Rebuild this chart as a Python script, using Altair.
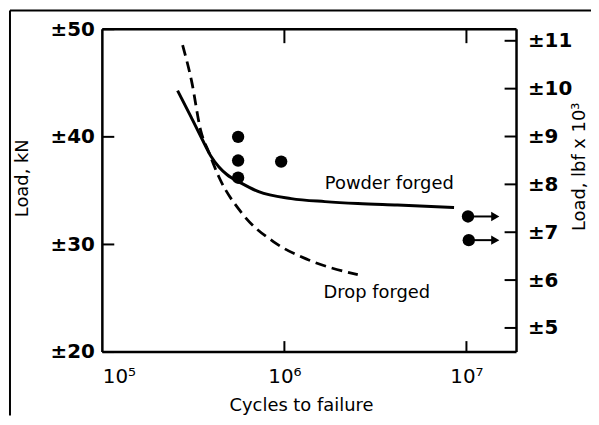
import altair as alt
import pandas as pd

# ---- data ----
powder_cycles = [2.59e5, 3.06e5, 3.54e5, 3.95e5, 4.37e5, 4.83e5, 5.83e5, 7.22e5,
                 1.09e6, 1.67e6, 2.53e6, 4.18e6, 8.55e6]
powder_load = [44.3, 41.9, 39.75, 38.2, 37.2, 36.5, 35.68, 34.9,
               34.26, 33.98, 33.8, 33.66, 33.44]
drop_cycles = [2.76e5, 3.09e5, 3.47e5, 3.85e5, 4.37e5, 5.83e5, 8.9e5, 1.35e6, 2.53e6]
drop_load = [48.52, 45.2, 40.58, 38.55, 36.27, 32.92, 30.15, 28.58, 27.19]
test_cycles = [5.57e5, 5.57e5, 5.57e5, 9.6e5, 1.02e7, 1.03e7]
test_load = [40.0, 37.8, 36.2, 37.7, 32.6, 30.4]
runout_cycles = [1.02e7, 1.03e7]
runout_load = [32.6, 30.4]
runout_tip = [1.44e7, 1.44e7]
label_text = ["Powder forged", "Drop forged"]
label_cycles = [3.77e6, 3.22e6]
label_load = [35.13, 25.04]
kn_ticks = [20, 30, 40, 50]
klbf_ticks = [5, 6, 7, 8, 9, 10, 11]
x_ticks = [1e5, 1e6, 1e7]
x_tick_labels = ["10⁵", "10⁶", "10⁷"]
inner_x_ticks = [1e6, 1e7]
KN_PER_KLBF = 4.448
x_domain = [1e5, 1.884e7]
y_domain = [20, 50]

W, H = 417, 325
PAD_R = 75
FONT = "DejaVu Sans"

xs = alt.Scale(type="log", domain=x_domain)
ys = alt.Scale(domain=y_domain)

label_expr = " : ".join(
    f"abs(datum.value - {v}) < {v * 0.01} ? '{t}'" for v, t in zip(x_ticks, x_tick_labels)
) + " : ''"

x_axis = alt.Axis(values=x_ticks, labelExpr=label_expr, title="Cycles to failure",
                  domain=False, ticks=False, tickSize=0, grid=False,
                  labelFont=FONT, labelFontSize=20, labelColor="black", labelPadding=15,
                  titleFont=FONT, titleFontSize=18, titleFontWeight="normal", titleColor="black",
                  titleX=200, titleY=59, titleBaseline="alphabetic", titleAlign="center")
y_axis = alt.Axis(values=kn_ticks, labelExpr="'±' + datum.value", title="Load, kN",
                  domain=False, ticks=False, tickSize=0, grid=False,
                  labelFont=FONT, labelFontSize=20, labelFontWeight="bold", labelColor="black",
                  labelPadding=8,
                  titleFont=FONT, titleFontSize=18, titleFontWeight="normal", titleColor="black",
                  titleX=-80, titleY=149.5, titleAngle=270, titleBaseline="middle",
                  titleAlign="center")
y2_axis = alt.Axis(orient="right", values=klbf_ticks, labelExpr="'±' + datum.value",
                   title="Load, lbf x 10³",
                   domain=False, ticks=False, tickSize=0, grid=False,
                   labelFont=FONT, labelFontSize=20, labelFontWeight="bold", labelColor="black",
                   labelPadding=11,
                   titleFont=FONT, titleFontSize=18, titleFontWeight="normal", titleColor="black",
                   titleX=63, titleY=138, titleAngle=270, titleBaseline="middle",
                   titleAlign="center")


def X(field):
    return alt.X(f"{field}:Q", scale=xs, axis=x_axis)


def Y(field):
    return alt.Y(f"{field}:Q", scale=ys, axis=y_axis)


powder = pd.DataFrame({"c": powder_cycles, "l": powder_load})
drop = pd.DataFrame({"c": drop_cycles, "l": drop_load})
tests = pd.DataFrame({"c": test_cycles, "l": test_load})
runs = pd.DataFrame({"c": runout_cycles, "t": runout_tip, "l": runout_load})
labels = pd.DataFrame({"c": label_cycles, "l": label_load, "txt": label_text})
kn = pd.DataFrame({"l": kn_ticks})
klbf = pd.DataFrame({"k": klbf_ticks})
inner = pd.DataFrame({"c": inner_x_ticks})
one = pd.DataFrame({"a": [0]})

powder_line = alt.Chart(powder).mark_line(color="black", strokeWidth=3, interpolate="monotone").encode(
    x=X("c"), y=Y("l"))
drop_line = alt.Chart(drop).mark_line(color="black", strokeWidth=2.8, strokeDash=[11, 6],
                                      interpolate="monotone").encode(x=X("c"), y=Y("l"))
dots = alt.Chart(tests).mark_circle(color="black", size=155, opacity=1).encode(x=X("c"), y=Y("l"))
arrow_shaft = alt.Chart(runs).mark_rule(color="black", strokeWidth=2).encode(
    x=X("c"), x2="t:Q", y=Y("l"))
arrow_head = alt.Chart(runs).mark_point(shape="triangle-right", filled=True, color="black",
                                        size=90, opacity=1).encode(
    x=alt.X("t:Q", scale=xs, axis=x_axis), y=Y("l"))
texts = alt.Chart(labels).mark_text(font=FONT, fontSize=18, color="black", align="center",
                                    baseline="alphabetic").encode(x=X("c"), y=Y("l"), text="txt:N")
left_ticks = alt.Chart(kn).mark_rule(color="black", strokeWidth=2).encode(
    y=Y("l"), x=alt.value(0), x2=alt.value(12))
bottom_ticks = alt.Chart(inner).mark_rule(color="black", strokeWidth=2).encode(
    x=X("c"), y=alt.value(H), y2=alt.value(H - 11))
top_ticks = alt.Chart(inner).mark_rule(color="black", strokeWidth=2).encode(
    x=X("c"), y=alt.value(0), y2=alt.value(14))

# plot box
box_left = alt.Chart(one).mark_rule(color="black", strokeWidth=2.5).encode(
    x=alt.value(0), y=alt.value(0), y2=alt.value(H))
box_right = alt.Chart(one).mark_rule(color="black", strokeWidth=2.5).encode(
    x=alt.value(W), y=alt.value(0), y2=alt.value(H))
box_top = alt.Chart(one).mark_rule(color="black", strokeWidth=2.5).encode(
    x=alt.value(0), x2=alt.value(W), y=alt.value(0))
box_bottom = alt.Chart(one).mark_rule(color="black", strokeWidth=2.5).encode(
    x=alt.value(0), x2=alt.value(W), y=alt.value(H))

# outer figure frame
frame_top = alt.Chart(one).mark_rule(color="black", strokeWidth=2).encode(
    x=alt.value(-93), x2=alt.value(W + PAD_R), y=alt.value(-19))
frame_left = alt.Chart(one).mark_rule(color="black", strokeWidth=2).encode(
    x=alt.value(-93), y=alt.value(-19), y2=alt.value(H + 64))

left = alt.layer(powder_line, drop_line, arrow_shaft, arrow_head, dots, texts,
                 left_ticks, bottom_ticks, top_ticks,
                 box_left, box_right, box_top, box_bottom, frame_top, frame_left)

right_ticks = alt.Chart(klbf).mark_rule(color="black", strokeWidth=2).encode(
    y=alt.Y("k:Q", scale=alt.Scale(domain=[y_domain[0] / KN_PER_KLBF, y_domain[1] / KN_PER_KLBF]),
            axis=y2_axis),
    x=alt.value(W - 12), x2=alt.value(W))

chart = alt.layer(left, right_ticks).resolve_scale(y="independent").properties(
    width=W, height=H,
    autosize=alt.AutoSizeParams(type="none"),
    padding={"left": 95, "top": 20, "right": PAD_R, "bottom": 64},
).configure_view(strokeWidth=0).configure(background="white")

chart.save("out.html", embed_options={"renderer": "svg", "actions": False})
